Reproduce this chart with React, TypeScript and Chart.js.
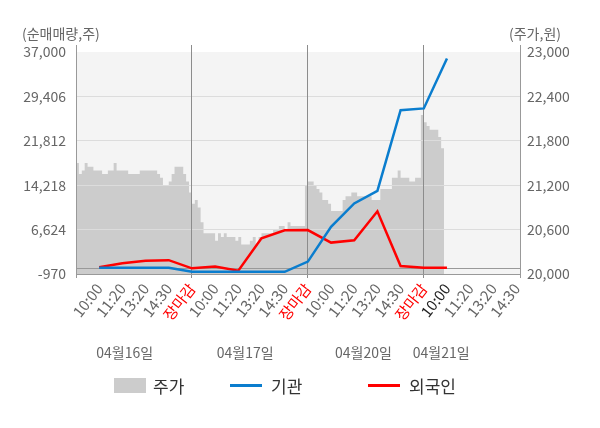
import { useEffect, useRef } from "react";
import { Chart, registerables } from "chart.js";

Chart.register(...registerables);

// x axis: one slot per time label, 5 slots per trading day
const slotLabels = [
	"",
	"10:00", "11:20", "13:20", "14:30", "장마감",
	"10:00", "11:20", "13:20", "14:30", "장마감",
	"10:00", "11:20", "13:20", "14:30", "장마감",
	"10:00", "11:20", "13:20", "14:30",
];
const closeLabel = "장마감";
const currentSlot = 16;
const dateLabels = ["04월16일", "04월17일", "04월20일", "04월21일"];

// net buying (shares), one value per slot starting at slot 1
const institutionNet = [100, 100, 100, 100, -580, -600, -600, -600, -600, 1150, 7100, 11100, 13250, 27050, 27350, 35900];
const foreignNet = [200, 850, 1300, 1400, 0, 300, -400, 5150, 6500, 6550, 4400, 4800, 9750, 400, 100, 100];

// share price (won), sampled every 1/8 slot
const priceDay1 = [21450, 21500, 21350, 21400, 21500, 21450, 21450, 21400, 21400, 21400, 21350, 21350, 21400, 21400, 21500, 21400, 21400, 21400, 21400, 21350, 21350, 21350, 21350, 21400, 21400, 21400, 21400, 21400, 21400, 21350, 21300, 21200, 21200, 21250, 21350, 21450, 21450, 21450, 21350, 21250];
const priceDay2 = [21100, 20950, 21000, 20900, 20700, 20550, 20550, 20550, 20550, 20450, 20550, 20500, 20550, 20500, 20500, 20500, 20450, 20500, 20400, 20400, 20400, 20450, 20500, 20400, 20500, 20550, 20550, 20550, 20550, 20600, 20600, 20650, 20650, 20600, 20700, 20650, 20650, 20650, 20650, 20650];
const priceDay3 = [21200, 21250, 21250, 21200, 21150, 21100, 21000, 21000, 20950, 20850, 20850, 20850, 20850, 21000, 21050, 21050, 21100, 21100, 21050, 21050, 21050, 21050, 21050, 21000, 21000, 21000, 21150, 21150, 21150, 21150, 21300, 21300, 21400, 21300, 21300, 21300, 21250, 21250, 21300, 21300];
const priceDay4 = [22150, 22050, 22000, 21950, 21950, 21950, 21850, 21700];
const priceDays = [priceDay1, priceDay2, priceDay3, priceDay4];

const leftTicks = [-970, 6624, 14218, 21812, 29406, 37000];
const rightTicks = [20000, 20600, 21200, 21800, 22400, 23000];

const slotsPerDay = 5;
const sampleStep = 0.125;
const xMax = 19.15;
const dateLabelSlots = [2.1, 7.3, 12.4, 15.75];
const legendX = [114, 230, 368];

const FONT = "'Noto Sans CJK KR', 'Noto Sans', sans-serif";

const priceData = priceDays.flatMap((day, d) =>
	day.map((p, k) => ({ x: d * slotsPerDay + k * sampleStep, y: p }))
);
const institutionData = institutionNet.map((v, i) => ({ x: i + 1, y: v }));
const foreignData = foreignNet.map((v, i) => ({ x: i + 1, y: v }));

const plotBackground = {
	id: "plotBackground",
	beforeDraw(chart) {
		const { ctx, chartArea } = chart;
		const top = chart.scales.y.getPixelForValue(leftTicks[leftTicks.length - 1]);
		ctx.save();
		ctx.fillStyle = "#f4f4f4";
		ctx.fillRect(chartArea.left, top, chartArea.right - chartArea.left, chartArea.bottom - top);
		ctx.restore();
	},
};

// grid lines sit on top of the price area but under the two lines
const gridOverArea = {
	id: "gridOverArea",
	afterDatasetDraw(chart, args) {
		if (args.index !== 0) return;
		chart.scales.y.drawGrid(chart.chartArea);
		chart.scales.x.drawGrid(chart.chartArea);
	},
};

const extraText = {
	id: "extraText",
	afterDraw(chart) {
		const { ctx } = chart;
		const x = chart.scales.x;
		ctx.save();
		ctx.textBaseline = "middle";
		ctx.fillStyle = "#666";
		ctx.font = `14px ${FONT}`;
		ctx.textAlign = "left";
		ctx.fillText("(순매매량,주)", 22, 34);
		ctx.fillText("(주가,원)", 509, 34);

		ctx.textAlign = "center";
		dateLabels.forEach((t, i) => {
			ctx.fillText(t, x.getPixelForValue(dateLabelSlots[i]), 353);
		});

		ctx.font = `17px ${FONT}`;
		ctx.textAlign = "left";
		chart.data.datasets.forEach((ds, i) => {
			const lx = legendX[i];
			if (ds.fill) {
				ctx.fillStyle = ds.backgroundColor;
				ctx.fillRect(lx, 378, 32, 15);
			} else {
				ctx.strokeStyle = ds.borderColor;
				ctx.lineWidth = 3;
				ctx.beginPath();
				ctx.moveTo(lx, 385.5);
				ctx.lineTo(lx + 32, 385.5);
				ctx.stroke();
			}
			ctx.fillStyle = "#333";
			ctx.fillText(ds.label, lx + (ds.fill ? 39 : 41), 387);
		});
		ctx.restore();
	},
};

const App = (): JSX.Element => {
	const chartRef = useRef<HTMLCanvasElement | null>(null);

	useEffect(() => {
		const c = chartRef.current.getContext("2d");
		const chart = new Chart(c, {
			type: "line",
			data: {
				datasets: [
					{
						label: "주가",
						data: priceData,
						yAxisID: "y1",
						stepped: "after",
						fill: "start",
						backgroundColor: "#cccccc",
						borderColor: "#cccccc",
						borderWidth: 0,
						pointRadius: 0,
						order: 3,
					},
					{
						label: "기관",
						data: institutionData,
						yAxisID: "y",
						borderColor: "#0a7dce",
						borderWidth: 2.5,
						pointRadius: 0,
						fill: false,
						order: 1,
					},
					{
						label: "외국인",
						data: foreignData,
						yAxisID: "y",
						borderColor: "#ff0000",
						borderWidth: 2.5,
						pointRadius: 0,
						fill: false,
						order: 2,
					},
				],
			},
			options: {
				animation: false,
				responsive: false,
				layout: { padding: { top: 45 } },
				plugins: {
					legend: { display: false },
					tooltip: { enabled: false },
				},
				scales: {
					x: {
						type: "linear",
						min: 0,
						max: xMax,
						afterBuildTicks: (s) => {
							s.ticks = [...slotLabels.map((_, i) => ({ value: i })), { value: xMax }];
						},
						afterFit: (s) => {
							s.height = 154;
						},
						grid: {
							color: (ctx) => {
								const v = ctx.tick?.value;
								if (v === 0 || v === xMax) return "#999";
								if (v % slotsPerDay === 0 && v < xMax - 1) return "#8c8c8c";
								return "rgba(0,0,0,0)";
							},
							tickLength: 4,
						},
						border: { color: "#999" },
						ticks: {
							autoSkip: false,
							minRotation: 52,
							maxRotation: 52,
							padding: 2,
							font: { family: FONT, size: 15 },
							color: (ctx) => {
								const v = ctx.tick?.value;
								if (slotLabels[v] === closeLabel) return "#ff0000";
								if (v === currentSlot) return "#222";
								return "#666";
							},
							callback: (v) => slotLabels[v] ?? "",
						},
					},
					y: {
						position: "left",
						min: -970,
						max: 38197,
						afterBuildTicks: (s) => {
							s.ticks = [...leftTicks, 0].sort((a, b) => a - b).map((v) => ({ value: v }));
						},
						afterFit: (s) => {
							s.width = 76;
						},
						grid: {
							color: (ctx) => {
								const v = ctx.tick?.value;
								if (v === 0 || v === -970) return "#999";
								if (v === 37000) return "rgba(0,0,0,0)";
								return "#dcdcdc";
							},
							drawTicks: false,
						},
						border: { color: "#999" },
						ticks: {
							padding: 10,
							color: "#666",
							font: { family: FONT, size: 14 },
							callback: (v) => (v === 0 ? "" : Number(v).toLocaleString("en-US")),
						},
					},
					y1: {
						position: "right",
						min: 20000,
						max: 23094.6,
						afterBuildTicks: (s) => {
							s.ticks = rightTicks.map((v) => ({ value: v }));
						},
						afterFit: (s) => {
							s.width = 80;
						},
						grid: { drawOnChartArea: false, drawTicks: false },
						border: { color: "#999" },
						ticks: {
							padding: 7,
							color: "#666",
							font: { family: FONT, size: 14 },
							callback: (v) => Number(v).toLocaleString("en-US"),
						},
					},
				},
			},
			plugins: [plotBackground, gridOverArea, extraText],
		});

		return () => {
			chart.destroy();
		};
	}, []);

	return (
		<div style={{ position: "fixed", left: 0, top: 0, width: 600, height: 428, background: "#fff" }}>
			<canvas ref={chartRef} width={600} height={428} style={{ width: 600, height: 428 }} />
		</div>
	);
};

export default App;
